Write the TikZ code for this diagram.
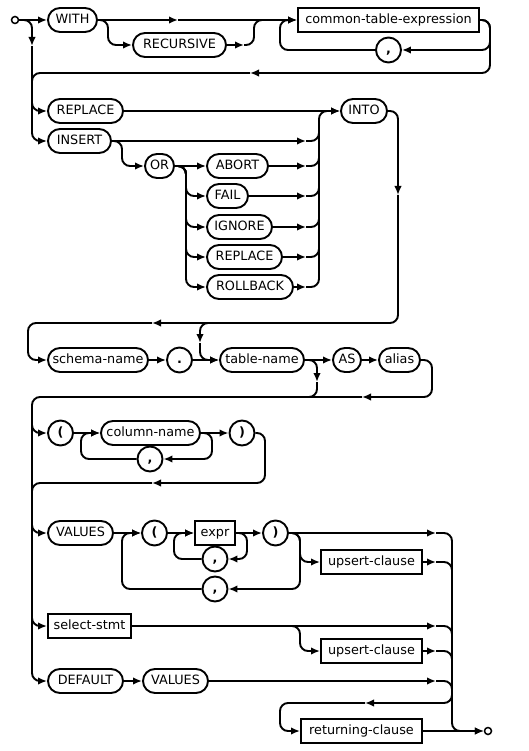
\documentclass[tikz,border=0pt]{standalone}
\usepackage{fontspec}
\setmainfont{DejaVu Sans}
\usetikzlibrary{arrows.meta}
\tikzset{
  ln/.style={line width=1.9pt},
  rc/.style={rounded corners=8pt},
  >={Latex[length=9pt,width=7.5pt]},
  txt/.style={font=\fontsize{12.8}{14}\selectfont, text height=9pt, text depth=2.5pt, inner sep=0pt},
  term/.style={txt, draw, line width=1.9pt, rectangle, rounded corners=12pt, minimum height=24pt},
  nterm/.style={txt, draw, line width=1.9pt, rectangle, minimum height=24pt},
  punct/.style={txt, draw, line width=1.9pt, circle, minimum size=25pt, font=\fontsize{12.8}{14}\selectfont\bfseries},
  endpt/.style={draw, line width=1.5pt, circle, minimum size=7pt, inner sep=0pt, fill=white},
}
\begin{document}
\begin{tikzpicture}[x=1pt,y=-1pt,ln]
\useasboundingbox (0,0) rectangle (528,751);

% nodes
\node[endpt] (start) at (15,20) {};
\node[term, minimum width=49pt] (with) at (72.5,20) {WITH};
\node[term, minimum width=93pt] (rec) at (179.5,45) {RECURSIVE};
\node[nterm, minimum width=181pt] (cte) at (388.5,20) {common-table-expression};
\node[punct] (c1) at (388.5,50) {,};
\node[term, minimum width=75pt] (rep1) at (85.5,111) {REPLACE};
\node[term, minimum width=63pt] (ins) at (79.5,141) {INSERT};
\node[term, minimum width=29pt] (or) at (159.5,166) {OR};
\node[term, minimum width=61pt] (abort) at (237.5,166) {ABORT};
\node[term, minimum width=41pt] (fail) at (227.5,196) {FAIL};
\node[term, minimum width=65pt] (ignore) at (239.5,227) {IGNORE};
\node[term, minimum width=75pt] (rep2) at (244.5,257) {REPLACE};
\node[term, minimum width=86pt] (roll) at (250,287) {ROLLBACK};
\node[term, minimum width=46pt] (into) at (364,111) {INTO};
\node[term, minimum width=100pt] (schema) at (98,360) {schema-name};
\node[punct] (dot) at (179.5,360) {.};
\node[term, minimum width=84pt] (table) at (262,360) {table-name};
\node[term, minimum width=28pt] (as) at (347,360) {AS};
\node[term, minimum width=41pt] (alias) at (399.5,360) {alias};
\node[punct] (lp1) at (60.5,433) {(};
\node[term, minimum width=99pt] (col) at (150.5,433) {column-name};
\node[punct] (c2) at (150,459) {,};
\node[punct] (rp1) at (242,433) {)};
\node[term, minimum width=65pt] (val1) at (80.5,533) {VALUES};
\node[punct] (lp2) at (154.5,533) {(};
\node[nterm, minimum width=40pt] (expr) at (215,533) {expr};
\node[punct] (c3) at (215,559) {,};
\node[punct] (rp2) at (275.5,533) {)};
\node[punct] (c4) at (215,589) {,};
\node[nterm, minimum width=101pt] (ups1) at (371.5,562) {upsert-clause};
\node[nterm, minimum width=83pt] (sel) at (89.5,626) {select-stmt};
\node[nterm, minimum width=101pt] (ups2) at (371.5,651) {upsert-clause};
\node[term, minimum width=75pt] (def) at (85.5,681) {DEFAULT};
\node[term, minimum width=65pt] (val2) at (175.5,681) {VALUES};
\node[nterm, minimum width=121pt] (ret) at (361.5,731) {returning-clause};
\node[endpt] (end) at (488,731) {};

% coordinates
\coordinate (a1) at (32,46);
\coordinate (a2) at (32,95);
\coordinate (t1) at (178,20);
\coordinate (r1) at (244,45);
\coordinate (l1) at (250,73);
\coordinate (j1) at (306,141);
\coordinate (j2) at (306,166);
\coordinate (j3) at (306,196);
\coordinate (j4) at (306,227);
\coordinate (j5) at (306,257);
\coordinate (j6) at (306,287);
\coordinate (d1) at (398,195);
\coordinate (l2) at (152,323);
\coordinate (b1) at (210,323);
\coordinate (b2) at (200,343);
\coordinate (b3) at (317,382);
\coordinate (l3) at (362,397);
\coordinate (a3) at (32,420);
\coordinate (l4) at (152,483);
\coordinate (a4) at (32,500);
\coordinate (k1) at (436,533);
\coordinate (k2) at (436,562);
\coordinate (k3) at (436,626);
\coordinate (k4) at (436,651);
\coordinate (k5) at (436,681);
\coordinate (k6) at (452,690);
\coordinate (l5) at (365,703);

% row 1
\draw[->] (start.east) -- (with.west);
\draw[rc,->] (start.east) -| (a1);
\draw (a1) -- (a2);
\draw[->] (with.east) -- (t1);
\draw[->] (t1) -- (cte.west);
\draw[rc,->] (with.east) -| (108,45) -- (rec.west);
\draw[->] (rec.east) -- (r1);
\draw[rc] (r1) -| (254,20) -- (264,20);
\draw[rc,->] (cte.east) -| (490,50) -- (c1.east);
\draw[rc,->] (c1.west) -| (280,20) -- (cte.west);
\draw[rc,->] (cte.east) -| (490,73) -- (l1);
\draw[rc] (l1) -| (a2);

% insert / replace
\draw[rc,->] (a2) |- (rep1.west);
\draw[rc,->] (a2) |- (ins.west);
\draw[->] (rep1.east) -- (into.west);
\draw[->] (ins.east) -- (j1);
\draw[rc,->] (ins.east) -| (122,166) -- (or.west);
\draw[->] (or.east) -- (abort.west);
\draw[rc,->] (or.east) -| (186,196) -- (fail.west);
\draw[rc,->] (or.east) -| (186,227) -- (ignore.west);
\draw[rc,->] (or.east) -| (186,257) -- (rep2.west);
\draw[rc,->] (or.east) -| (186,287) -- (roll.west);
\draw[->] (abort.east) -- (j2);
\draw[->] (fail.east) -- (j3);
\draw[->] (ignore.east) -- (j4);
\draw[->] (rep2.east) -- (j5);
\draw[->] (roll.east) -- (j6);
\draw[rc,->] (j6) -| (319,111) -- (into.west);
\draw[rc] (j1) -| (319,128);
\draw[rc] (j2) -| (319,150);
\draw[rc] (j3) -| (319,180);
\draw[rc] (j4) -| (319,210);
\draw[rc] (j5) -| (319,240);

% into -> schema
\draw[rc,->] (into.east) -| (d1);
\draw[rc,->] (d1) |- (l2);
\draw[rc,->] (l2) -| (28,360) -- (schema.west);
\draw[rc,->] (b1) -| (b2);
\draw[rc,->] (b2) |- (table.west);
\draw[->] (schema.east) -- (dot.west);
\draw[->] (dot.east) -- (table.west);
\draw[->] (table.east) -- (as.west);
\draw[->] (as.east) -- (alias.west);
\draw[rc,->] (table.east) -| (b3);
\draw[rc] (b3) |- (300,397);
\draw[rc,->] (alias.east) -| (432,397) -- (l3);
\draw[rc] (l3) -| (a3);

% column list
\draw[rc,->] (a3) |- (lp1.west);
\draw (a3) -- (a4);
\draw[->] (lp1.east) -- (col.west);
\draw[->] (col.east) -- (rp1.west);
\draw[rc,->] (col.east) -| (212,459) -- (c2.east);
\draw[rc,->] (c2.west) -| (81,433) -- (col.west);
\draw[rc,->] (rp1.east) -| (265,483) -- (l4);
\draw[rc] (l4) -| (a4);

% values
\draw[rc,->] (a4) |- (val1.west);
\draw[rc,->] (a4) |- (sel.west);
\draw[rc,->] (a4) |- (def.west);
\draw[->] (val1.east) -- (lp2.west);
\draw[->] (lp2.east) -- (expr.west);
\draw[->] (expr.east) -- (rp2.west);
\draw[rc,->] (expr.east) -| (247,559) -- (c3.east);
\draw[rc,->] (c3.west) -| (174,533) -- (expr.west);
\draw[rc,->] (rp2.east) -| (300,589) -- (c4.east);
\draw[rc,->] (c4.west) -| (122,533) -- (lp2.west);
\draw[->] (rp2.east) -- (k1);
\draw[rc,->] (rp2.east) -| (300,562) -- (ups1.west);
\draw[->] (ups1.east) -- (k2);
\draw[->] (sel.east) -- (k3);
\draw[rc,->] (sel.east) -| (300,651) -- (ups2.west);
\draw[->] (ups2.east) -- (k4);
\draw[->] (def.east) -- (val2.west);
\draw[->] (val2.east) -- (k5);

% right collector
\draw[rc,->] (k1) -| (452,731) -- (end.west);
\draw[rc] (k2) -| (452,580);
\draw[rc] (k3) -| (452,644);
\draw[rc] (k4) -| (452,668);
\draw[rc] (k5) -| (452,698);
\draw[rc,->] (k6) |- (l5);
\draw[rc,->] (l5) -| (280,731) -- (ret.west);
\draw[->] (ret.east) -- (end.west);
\end{tikzpicture}
\end{document}
